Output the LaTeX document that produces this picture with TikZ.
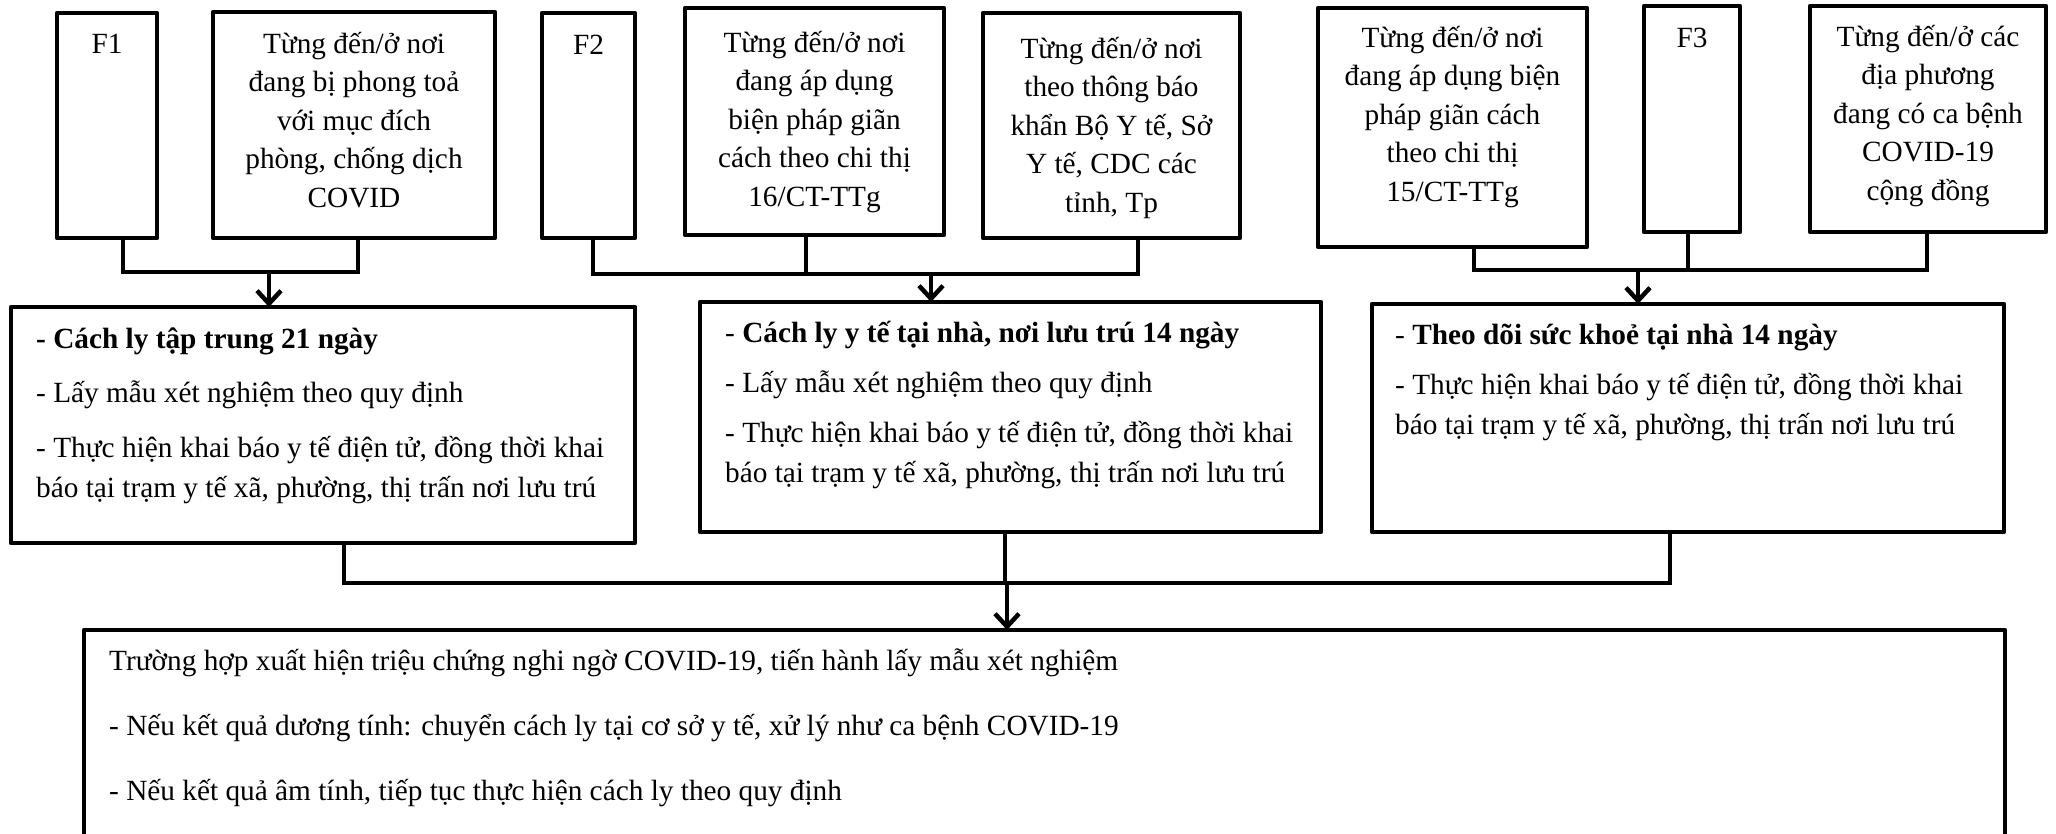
\documentclass[tikz,border=0pt]{standalone}
\usepackage{fontspec}
\setmainfont{Liberation Serif}
\usetikzlibrary{arrows.meta}
\begin{document}
\begin{tikzpicture}[x=1pt,y=-1pt,
  box/.style={draw, line width=4.5pt, line join=round, inner sep=0pt, outer sep=0pt, anchor=north west},
  ttxt/.style={inner sep=0pt, anchor=base, font=\fontsize{29.3}{38.5}\selectfont},
  ltxt/.style={inner sep=0pt, anchor=base west, font=\fontsize{29.3}{40}\selectfont},
  conn/.style={line width=4.5pt, line join=miter},
  arr/.style={line width=4.5pt, -{Straight Barb[length=13pt,width=24pt,line width=4.5pt]}}]
\useasboundingbox (0,0) rectangle (2056,833);
\fill[white] (0,0) rectangle (2056,833);
\clip (0,0) rectangle (2056,833);

% top row boxes
\node[box, minimum width=100pt, minimum height=225pt] (F1) at (57,13) {};
\node[box, minimum width=282pt, minimum height=226pt] (T1) at (213,12) {};
\node[box, minimum width=93pt,  minimum height=225pt] (F2) at (542,13) {};
\node[box, minimum width=259pt, minimum height=227pt] (T2) at (685,8) {};
\node[box, minimum width=257pt, minimum height=225pt] (T3) at (983,13) {};
\node[box, minimum width=269pt, minimum height=239pt] (T4) at (1318,8) {};
\node[box, minimum width=96pt,  minimum height=226pt] (F3) at (1644,6) {};
\node[box, minimum width=236pt, minimum height=226pt] (T5) at (1810,6) {};

% top row texts
\node[ttxt] (F1t) at ([yshift=-40pt]F1.north) {F1};
\node[ttxt] (F2t) at ([yshift=-41pt]F2.north) {F2};
\node[ttxt] (F3t) at ([yshift=-41pt]F3.north) {F3};
\node[ttxt] (T1t) at ([yshift=-41pt]T1.north) {\parbox[t]{270pt}{\centering Từng đến/ở nơi\\đang bị phong toả\\với mục đích\\phòng, chống dịch\\COVID}};
\node[ttxt] (T2t) at ([yshift=-44pt]T2.north) {\parbox[t]{250pt}{\centering Từng đến/ở nơi\\đang áp dụng\\biện pháp giãn\\cách theo chi thị\\16/CT-TTg}};
\node[ttxt] (T3t) at ([yshift=-45pt]T3.north) {\parbox[t]{250pt}{\centering Từng đến/ở nơi\\theo thông báo\\khẩn Bộ Y tế, Sở\\Y tế, CDC các\\tỉnh, Tp}};
\node[ttxt] (T4t) at ([yshift=-39pt]T4.north) {\parbox[t]{260pt}{\centering Từng đến/ở nơi\\đang áp dụng biện\\pháp giãn cách\\theo chi thị\\15/CT-TTg}};
\node[ttxt] (T5t) at ([yshift=-40pt]T5.north) {\parbox[t]{230pt}{\centering Từng đến/ở các\\địa phương\\đang có ca bệnh\\COVID-19\\cộng đồng}};

% middle row boxes
\node[box, minimum width=624pt, minimum height=236pt] (A) at (11,307) {};
\node[box, minimum width=621pt, minimum height=230pt] (B) at (700,302) {};
\node[box, minimum width=632pt, minimum height=228pt] (C) at (1372,304) {};

\node[ltxt] (At) at ([xshift=25pt,yshift=-41pt]A.north west) {\parbox[t]{600pt}{\raggedright
  {\bfseries - Cách ly tập trung 21 ngày}\\[14.5pt]
  - Lấy mẫu xét nghiệm theo quy định\\[14.5pt]
  - Thực hiện khai báo y tế điện tử, đồng thời khai\\
  báo tại trạm y tế xã, phường, thị trấn nơi lưu trú}};
\node[ltxt] (Bt) at ([xshift=25pt,yshift=-40pt]B.north west) {\parbox[t]{600pt}{\raggedright
  - {\bfseries Cách ly y tế tại nhà, nơi lưu trú 14 ngày}\\[10pt]
  - Lấy mẫu xét nghiệm theo quy định\\[10pt]
  - Thực hiện khai báo y tế điện tử, đồng thời khai\\
  báo tại trạm y tế xã, phường, thị trấn nơi lưu trú}};
\node[ltxt] (Ct) at ([xshift=23pt,yshift=-40pt]C.north west) {\parbox[t]{600pt}{\raggedright
  - {\bfseries Theo dõi sức khoẻ tại nhà 14 ngày}\\[10pt]
  - Thực hiện khai báo y tế điện tử, đồng thời khai\\
  báo tại trạm y tế xã, phường, thị trấn nơi lưu trú}};

% bottom box
\node[box, minimum width=1921pt, minimum height=230pt] (D) at (84,630) {};
\node[ltxt] (Dt) at ([xshift=25pt,yshift=-40pt]D.north west) {\parbox[t]{1800pt}{\raggedright
  Trường hợp xuất hiện triệu chứng nghi ngờ COVID-19, tiến hành lấy mẫu xét nghiệm\\[25pt]
  - Nếu kết quả dương tính: chuyển cách ly tại cơ sở y tế, xử lý như ca bệnh COVID-19\\[25pt]
  - Nếu kết quả âm tính, tiếp tục thực hiện cách ly theo quy định}};

% junctions
\coordinate (j1) at (269,272);
\coordinate (j2) at (931,274);
\coordinate (j3) at (1638,270);
\coordinate (j4) at (1007,583);

% group 1
\draw[conn] ([xshift=16pt]F1.south) |- (j1) -| ([xshift=4pt]T1.south);
\draw[arr] (j1) -- (A.north -| j1);
% group 2
\draw[conn] ([xshift=4.5pt]F2.south) |- (j2) -| ([xshift=26.5pt]T3.south);
\draw[conn] ([xshift=-8.5pt]T2.south) -- ([xshift=-8.5pt]T2.south |- j2);
\draw[arr] (j2) -- (B.north -| j2);
% group 3
\draw[conn] ([xshift=21.5pt]T4.south) |- (j3) -| ([xshift=-1pt]T5.south);
\draw[conn] ([xshift=-4pt]F3.south) -- ([xshift=-4pt]F3.south |- j3);
\draw[arr] (j3) -- (C.north -| j3);
% group 4
\draw[conn] ([xshift=21pt]A.south) |- (j4) -| ([xshift=-18pt]C.south);
\draw[conn] ([xshift=-5.5pt]B.south) -- ([xshift=-5.5pt]B.south |- j4);
\draw[arr] (j4) -- (D.north -| j4);
\end{tikzpicture}
\end{document}
